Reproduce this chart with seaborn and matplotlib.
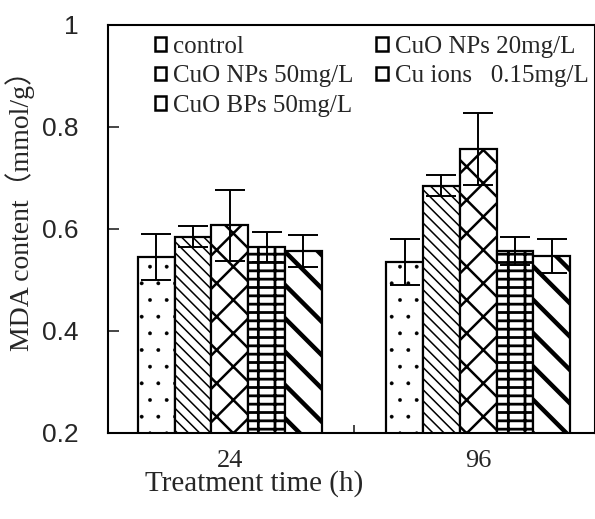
import pandas as pd
import seaborn as sns
import matplotlib.pyplot as plt
import numpy as np

# data
times = ['24', '96']
treatments = ['control', 'CuO NPs 20mg/L', 'CuO NPs 50mg/L', 'Cu ions   0.15mg/L', 'CuO BPs 50mg/L']
control = [0.545, 0.535]
nps20 = [0.585, 0.685]
nps50 = [0.607, 0.757]
cu_ions = [0.565, 0.557]
bps50 = [0.557, 0.547]
control_err = [0.045, 0.045]
nps20_err = [0.02, 0.02]
nps50_err = [0.07, 0.07]
cu_ions_err = [0.03, 0.028]
bps50_err = [0.031, 0.033]

values = [control, nps20, nps50, cu_ions, bps50]
errors = [control_err, nps20_err, nps50_err, cu_ions_err, bps50_err]

rows = []
for t, vals in zip(treatments, values):
    for tm, v in zip(times, vals):
        rows.append({'time': tm, 'treatment': t, 'MDA': v})
df = pd.DataFrame(rows)

sns.set_style('ticks')
plt.rcParams['hatch.linewidth'] = 1.2

fig = plt.figure(figsize=(5.95, 5.19), dpi=100)
ax = fig.add_axes([108 / 595, 86 / 519, 487 / 595, 408 / 519])

sns.barplot(data=df, x='time', y='MDA', hue='treatment', hue_order=treatments,
            order=times, palette=['white'] * 5, edgecolor='black', linewidth=1.6,
            width=0.74, errorbar=None, ax=ax)

hatches = ['.', '\\\\\\', 'x', '+-', '\\']
hatch_lw = [0.3, 1.1, 1.8, 2.0, 3.2]
for cont, h, lw, errs in zip(ax.containers, hatches, hatch_lw, errors):
    xs = []
    ys = []
    for bar in cont:
        bar.set_hatch(h)
        if hasattr(bar, 'set_hatch_linewidth'):
            bar.set_hatch_linewidth(lw)
        xs.append(bar.get_x() + bar.get_width() / 2)
        ys.append(bar.get_height())
    ax.errorbar(xs, ys, yerr=errs, fmt='none', ecolor='black', elinewidth=1.4,
                capsize=11, capthick=1.4, zorder=5)

ax.set_ylim(0.2, 1.0)
ax.set_xlim(-0.49, 1.47)
ax.set_yticks([0.2, 0.4, 0.6, 0.8, 1.0])
ax.set_yticklabels(['0.2', '0.4', '0.6', '0.8', '1'], family='Liberation Sans', fontsize=19)
ax.set_xticks([0, 1])
ax.set_xticklabels(times, family='Liberation Serif', fontsize=19)
ax.set_xticks([0.5], minor=True)
ax.tick_params(axis='y', direction='in', length=8, width=1.2, pad=21)
ax.tick_params(axis='x', which='major', length=0, pad=12)
ax.tick_params(axis='x', which='minor', direction='in', length=6, width=1.2)

for s in ax.spines.values():
    s.set_linewidth(1.5)
    s.set_color('black')

ax.set_xlabel('Treatment time (h)', family='Liberation Serif', fontsize=21)
ax.xaxis.set_label_coords(0.30, -0.09)
ax.set_ylabel('MDA content（mmol/g）', family=['Liberation Serif', 'Noto Sans CJK SC'],
              fontsize=20)
ax.yaxis.set_label_coords(-0.15, 0.56)

handles, labels = ax.get_legend_handles_labels()
order = [0, 2, 4, 1, 3]
leg = ax.legend([handles[i] for i in order], [labels[i] for i in order], ncol=2,
                loc='upper left', bbox_to_anchor=(0.065, 1.01), frameon=False,
                prop={'family': 'Liberation Serif', 'size': 18},
                handlelength=0.45, handleheight=0.45, handletextpad=0.3,
                columnspacing=0.9, labelspacing=0.3, borderaxespad=0.2)
for h in leg.legend_handles:
    h.set_linewidth(1.8)

fig.savefig('out.png', dpi=100)
